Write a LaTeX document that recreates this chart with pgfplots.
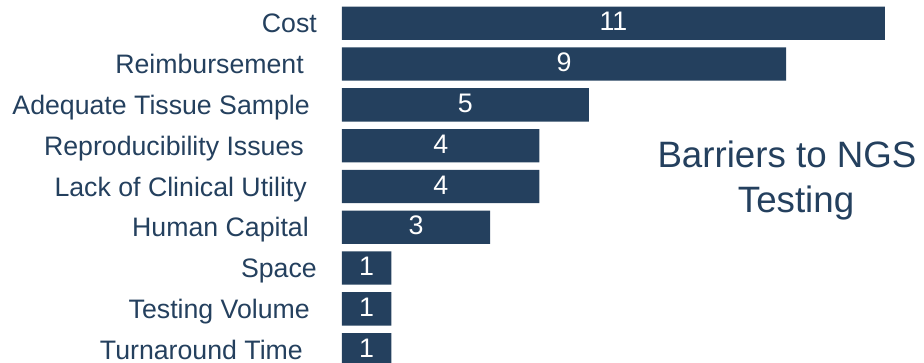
\documentclass[border=0pt]{standalone}
\usepackage{pgfplots}
\pgfplotsset{compat=1.18}
\usepackage{pgfplotstable}
\usepackage{fontspec}
\setmainfont{Liberation Sans}
\definecolor{navy}{RGB}{36,64,94}
\pgfplotstableread{
i v
0 11
1 9
2 5
3 4
4 4
5 3
6 1
7 1
8 1
}\barriers
\begin{document}
\begin{tikzpicture}[x=1pt,y=1pt]
\path[use as bounding box] (0,0) rectangle (924,363);
\clip (0,0) rectangle (924,363);
\begin{axis}[
  at={(342pt,360.1pt)}, anchor=north west,
  scale only axis,
  width=542.9pt, height=367.2pt,
  xmin=0, xmax=11,
  ymin=-0.5, ymax=8.5,
  y dir=reverse,
  xbar, bar width=33.3pt,
  hide x axis,
  axis y line*=left,
  y axis line style={draw=none},
  major tick length=0pt,
  ytick={0,...,8},
  yticklabels={\mbox{Cost},
    \mbox{Reimbursement\kern13pt},
    \mbox{Adequate Tissue Sample\kern7pt},
    \mbox{Reproducibility Issues\kern13pt},
    \mbox{Lack of Clinical Utility\kern10pt},
    \mbox{Human Capital\kern8pt},
    \mbox{Space},
    \mbox{Testing Volume\kern7pt},
    \mbox{\smash{Turnaround Time}\kern14pt}},
  yticklabel style={anchor=base east, inner sep=0pt, xshift=-25pt, yshift=-9.7pt,
    font=\fontsize{26.7}{30}\selectfont, text=navy},
  /pgf/number format/assume math mode=true,
  clip=false,
]
\addplot[fill=navy, draw=none] table[x=v, y=i] {\barriers};
\addplot[draw=none, xbar=0pt, bar width=0pt, forget plot,
  nodes near coords, point meta=explicit,
  nodes near coords style={anchor=base, yshift=-9.6pt, inner sep=0pt, text=white,
    font=\fontsize{26.8}{30}\selectfont}]
  table[x expr=\thisrow{v}/2, y=i, meta=v] {\barriers};
\end{axis}
\node[anchor=base, text=navy, font=\fontsize{36.7}{44}\selectfont, inner sep=0pt] at (787,195) {Barriers to NGS};
\node[anchor=base, text=navy, font=\fontsize{36.7}{44}\selectfont, inner sep=0pt] at (796,150) {Testing};
\end{tikzpicture}
\end{document}
